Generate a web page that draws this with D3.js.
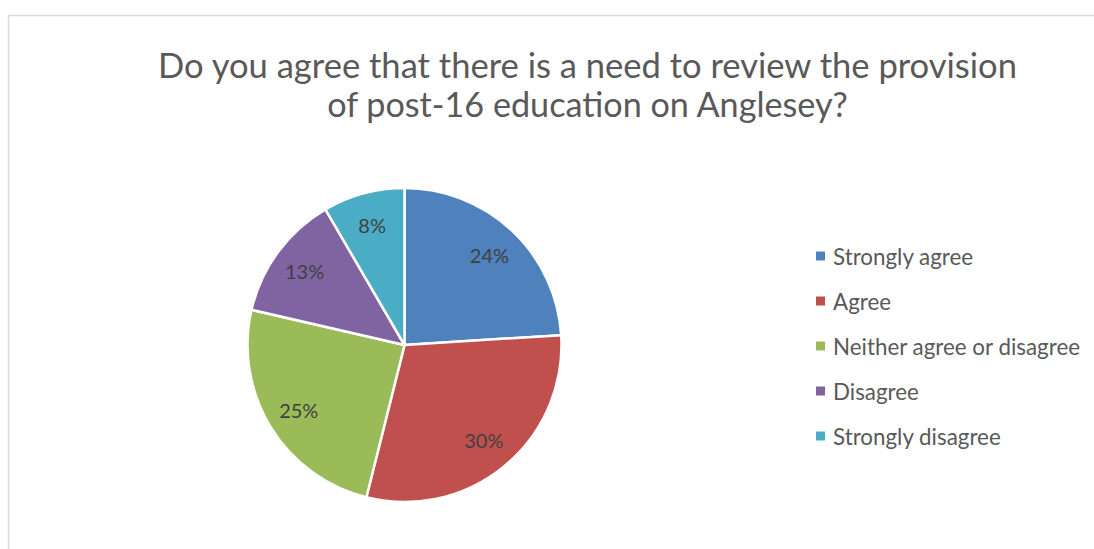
<!DOCTYPE html>
<html>
<head>
<meta charset="utf-8">
<script src="https://cdn.jsdelivr.net/npm/d3@7"></script>
<style>
  html, body { margin: 0; padding: 0; background: #fff; }
  svg { display: block; }
</style>
</head>
<body>
<svg id="chart" width="1094" height="549"></svg>
<script>
const categories = ["Strongly agree", "Agree", "Neither agree or disagree", "Disagree", "Strongly disagree"];
const values = [24.0, 29.9, 24.7, 13.0, 8.4];
const colors = ["#4f81bd", "#c0504d", "#9bbb59", "#8064a2", "#4bacc6"];
const titleLines = ["Do you agree that there is a need to review the provision", "of post-16 education on Anglesey?"];

const FONT = "Lato, Calibri, 'Open Sans', sans-serif";
const svg = d3.select("#chart");

// chart area border
svg.append("rect")
  .attr("x", 8.5).attr("y", 15.5)
  .attr("width", 1200).attr("height", 700)
  .attr("fill", "#fff")
  .attr("stroke", "#d9d9d9").attr("stroke-width", 1.5);

function fitText(sel, targetWidth) {
  const node = sel.node();
  const fs = parseFloat(sel.attr("font-size"));
  const w = node.getComputedTextLength();
  if (w > 0) sel.attr("font-size", (fs * targetWidth / w).toFixed(2));
}

// title
const titleWidths = [859, 521];
const titleY = [78, 117];
titleLines.forEach((t, i) => {
  const tx = svg.append("text")
    .attr("x", 587.5).attr("y", titleY[i])
    .attr("text-anchor", "middle")
    .attr("font-family", FONT).attr("font-size", 32)
    .attr("fill", "#595959")
    .text(t);
  fitText(tx, titleWidths[i]);
});

// pie
const cx = 404.5, cy = 345, r = 157;
const total = d3.sum(values);
const pie = d3.pie().sort(null).value(d => d)(values);
const arc = d3.arc().innerRadius(0).outerRadius(r);
const labelArc = d3.arc().innerRadius(r * 0.79).outerRadius(r * 0.79);

const g = svg.append("g").attr("transform", `translate(${cx},${cy})`);
g.selectAll("path.slice")
  .data(pie)
  .join("path")
  .attr("class", "slice")
  .attr("d", arc)
  .attr("fill", (d, i) => colors[i])
  .attr("stroke", "#fff")
  .attr("stroke-width", 2.5)
  .attr("stroke-linejoin", "round");

g.selectAll("text.lbl")
  .data(pie)
  .join("text")
  .attr("class", "lbl")
  .attr("transform", d => `translate(${labelArc.centroid(d)})`)
  .attr("text-anchor", "middle")
  .attr("dominant-baseline", "central")
  .attr("font-family", FONT).attr("font-size", 20)
  .attr("fill", "#404040")
  .text(d => Math.round(d.data / total * 100) + "%");

// legend
const legY0 = 256, legStep = 45;
const leg = svg.append("g");
const items = leg.selectAll("g.item")
  .data(categories)
  .join("g")
  .attr("class", "item")
  .attr("transform", (d, i) => `translate(816,${legY0 + i * legStep})`);
items.append("rect")
  .attr("x", 0).attr("y", -4.5)
  .attr("width", 9).attr("height", 9)
  .attr("fill", (d, i) => colors[i]);
const legText = items.append("text")
  .attr("x", 17).attr("y", 0)
  .attr("dominant-baseline", "central")
  .attr("font-family", FONT).attr("font-size", 19)
  .attr("fill", "#595959")
  .text(d => d);
{
  const third = legText.filter((d, i) => i === 2);
  const w = third.node().getComputedTextLength();
  const fs = 19 * 247 / w;
  legText.attr("font-size", fs.toFixed(2));
}
</script>
</body>
</html>
